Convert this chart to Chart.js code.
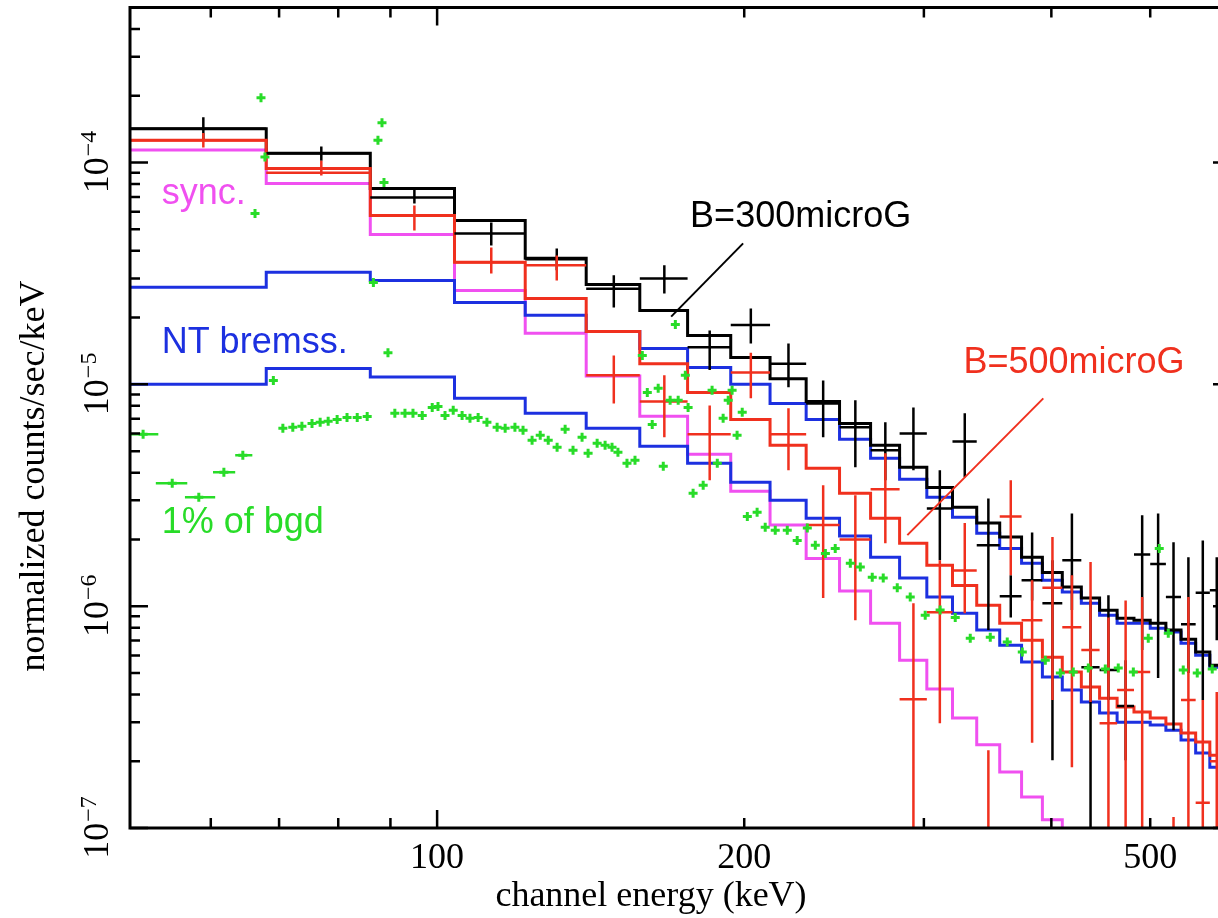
<!DOCTYPE html>
<html>
<head>
<meta charset="utf-8">
<title>Spectrum fit</title>
<script src="https://cdn.jsdelivr.net/npm/chart.js@4.4.1/dist/chart.umd.min.js"></script>
<style>
  html, body { margin: 0; padding: 0; background: #fff; }
  #wrap { width: 1218px; height: 918px; overflow: hidden; }
  canvas { display: block; }
</style>
</head>
<body>
<div id="wrap"><canvas id="spec" width="1240" height="918"></canvas></div>
<script>
// channel bin edges (keV)
const binEdges = [50, 68, 86, 104, 122, 140, 158, 176, 194, 212, 230, 248, 266, 284, 302, 320,
  338, 356, 374, 392, 410, 428, 446, 464, 482, 500, 518, 536, 554, 572, 590, 608];

// models, one value per bin
const modelB300 = [1.42e-4, 1.10e-4, 7.64e-5, 5.48e-5, 3.70e-5, 2.82e-5, 2.15e-5, 1.66e-5, 1.32e-5, 1.06e-5,
  8.37e-6, 6.67e-6, 5.31e-6, 4.23e-6, 3.43e-6, 2.79e-6, 2.37e-6, 2.05e-6, 1.66e-6, 1.42e-6,
  1.22e-6, 1.09e-6, 9.59e-7, 8.83e-7, 8.65e-7, 8.38e-7, 7.80e-7, 7.10e-7, 6.21e-7, 5.42e-7, 4.74e-7];
const modelB500 = [1.26e-4, 9.4e-5, 5.77e-5, 3.55e-5, 2.44e-5, 1.73e-5, 1.24e-5, 9.2e-6, 6.95e-6, 5.31e-6,
  4.19e-6, 3.23e-6, 2.49e-6, 1.92e-6, 1.53e-6, 1.24e-6, 1.01e-6, 8.38e-7, 7.03e-7, 5.89e-7,
  5.05e-7, 4.32e-7, 3.85e-7, 3.51e-7, 3.33e-7, 3.13e-7, 2.94e-7, 2.68e-7, 2.44e-7, 2.13e-7, 1.92e-7];
const bremssHigh = [2.74e-5, 3.20e-5, 2.94e-5, 2.34e-5, 2.05e-5, 1.73e-5, 1.45e-5, 1.19e-5, 1.0e-5, 8.2e-6,
  6.95e-6, 5.65e-6, 4.65e-6, 3.73e-6, 3.10e-6, 2.52e-6, 2.13e-6, 1.82e-6, 1.56e-6, 1.31e-6,
  1.16e-6, 1.03e-6, 9.1e-7, 8.38e-7, 8.38e-7, 7.96e-7, 7.64e-7, 6.81e-7, 6.01e-7, 5.31e-7, 4.65e-7];
const bremssLow = [1.0e-5, 1.18e-5, 1.08e-5, 8.65e-6, 7.40e-6, 6.34e-6, 5.26e-6, 4.41e-6, 3.62e-6, 3.0e-6,
  2.49e-6, 2.07e-6, 1.66e-6, 1.34e-6, 1.10e-6, 9.3e-7, 7.80e-7, 6.67e-7, 5.6e-7, 4.79e-7,
  4.19e-7, 3.70e-7, 3.30e-7, 3.0e-7, 3.0e-7, 2.91e-7, 2.76e-7, 2.49e-7, 2.18e-7, 1.88e-7, 1.64e-7];
const syncModel = [1.14e-4, 8.04e-5, 4.74e-5, 2.65e-5, 1.70e-5, 1.09e-5, 7.18e-6, 4.84e-6, 3.30e-6, 2.32e-6,
  1.64e-6, 1.17e-6, 8.38e-7, 5.71e-7, 4.23e-7, 3.13e-7, 2.37e-7, 1.79e-7, 1.38e-7, 1.09e-7, 8e-8];

// data points (per bin): value, upper and lower end of error bar
const data300 = [1.42e-4, 1.10e-4, 6.95e-5, 4.79e-5, 3.66e-5, 2.70e-5, 3.0e-5, 1.47e-5, 1.85e-5, 1.24e-5,
  8.2e-6, 6.40e-6, 5.05e-6, 6.01e-6, 2.76e-6, 5.53e-6, 1.88e-6, 1.11e-6, 1.31e-6, 1.03e-6,
  1.61e-6, 5.31e-7, 5.16e-7, 3.55e-7, 1.71e-6, 1.55e-6, 1.10e-6, 8.3e-7, 1.15e-6, 1.18e-6, null];
const data300Hi = [1.60e-4, 1.18e-4, 7.64e-5, 5.37e-5, 4.10e-5, 3.10e-5, 3.44e-5, 1.75e-5, 2.20e-5, 1.53e-5,
  1.04e-5, 8.47e-6, 6.74e-6, 7.87e-6, 4.10e-6, 7.40e-6, 3.06e-6, 1.38e-6, 2.15e-6, 1.61e-6,
  2.62e-6, 1.06e-6, 1.12e-6, 5.71e-7, 2.57e-6, 2.62e-6, 1.94e-6, 1.66e-6, 1.98e-6, 1.66e-6, null];
const data300Lo = [1.26e-4, 1.02e-4, 6.53e-5, 4.23e-5, 3.27e-5, 2.22e-5, 2.57e-5, 1.16e-5, 1.53e-5, 9.7e-6,
  5.78e-6, 4.23e-6, 3.70e-6, 4.10e-6, 1.61e-6, 3.81e-6, 7.80e-7, 8.9e-7, 1.06e-6, 2.02e-7,
  9.6e-7, 5e-8, 3.78e-7, 2.02e-7, 6.34e-7, 4.74e-7, 2.76e-7, 5.0e-7, 3.78e-7, 7.03e-7, null];

const data500 = [1.26e-4, 9.0e-5, 5.77e-5, 3.55e-5, 3.44e-5, 1.10e-5, 8.37e-6, 5.96e-6, 1.13e-5, 5.96e-6,
  2.32e-6, 2.0e-6, 3.37e-6, 3.81e-7, 9.4e-7, 1.45e-6, 6e-8, 2.54e-6, 8.65e-7, 1.21e-6,
  8.04e-7, 6.34e-7, 2.97e-7, 4.19e-7, 5.05e-7, null, 6e-8, 3.78e-7, 1.30e-7, 2.0e-7, null];
const data500Hi = [1.36e-4, 1.02e-4, 6.4e-5, 4.14e-5, 3.81e-5, 1.35e-5, 1.10e-5, 8.04e-6, 1.39e-5, 7.80e-6,
  3.51e-6, 3.16e-6, 4.89e-6, 1.03e-6, 1.61e-6, 2.37e-6, 2.24e-7, 3.70e-6, 1.31e-6, 2.05e-6,
  1.38e-6, 1.58e-6, 8.9e-7, 1.06e-6, 1.10e-6, null, 1.12e-7, 1.10e-6, 3.78e-7, 4.1e-7, null];
const data500Lo = [1.17e-4, 8.74e-5, 4.94e-5, 3.16e-5, 2.94e-5, 8.2e-6, 5.78e-6, 3.70e-6, 8.65e-6, 4.10e-6,
  1.09e-6, 8.65e-7, 1.92e-6, 5e-8, 2.97e-7, 9.3e-7, 5e-8, 1.38e-6, 2.42e-7, 3.78e-7,
  1.88e-7, 3.7e-7, 5e-8, 5e-8, 5e-8, null, 5e-8, 5e-8, 5e-8, 5e-8, null];

// 1% of background, finer binning
const bgdE = [67.2, 67.8, 66.3, 88.3, 87.5, 88.7, 86.6, 89.5, 69.1,
  70.6, 72.2, 73.7, 75.4, 76.8, 78.2, 79.8, 81.6, 83.5, 85.4, 90.9, 93.0, 94.7, 96.7, 98.9,
  100.2, 101.8, 103.7, 105.8, 107.7, 109.7, 111.9, 114.5, 116.6, 119.2, 121.4, 123.9, 126.2,
  128.5, 131.1, 133.5, 135.9, 138.7, 140.6, 143.5, 146.1, 148.4, 150.4, 153.5, 156.3,
  158.9, 160.7, 162.5, 164.7, 166.6, 169.2, 171.2, 172.3, 175.1, 176.2, 178.2, 182.3, 186.0,
  188.2, 190.7, 192.9, 194.6, 196.8, 199.1, 201.4, 205.9, 209.7, 214.5, 220.4, 225.4, 230.6,
  234.8, 240.2, 245.6, 254.1, 259.9, 267.0, 273.7, 282.5, 290.9, 300.9, 311.2, 322.0, 333.1,
  348.5, 362.1, 374.6, 394.6, 408.2, 420.3, 434.8, 451.8, 465.2, 481.3, 497.8, 510.3, 520.8,
  538.7, 556.0, 575.1];
const bgdV = [1.96e-4, 1.06e-4, 5.89e-5, 1.51e-4, 1.26e-4, 8.13e-5, 2.88e-5, 1.39e-5, 1.04e-5,
  6.34e-6, 6.40e-6, 6.47e-6, 6.67e-6, 6.74e-6, 6.81e-6, 6.95e-6, 7.09e-6, 7.09e-6, 7.17e-6, 7.40e-6, 7.40e-6, 7.40e-6, 7.24e-6, 7.87e-6,
  7.95e-6, 7.24e-6, 7.64e-6, 7.24e-6, 7.03e-6, 7.09e-6, 6.74e-6, 6.40e-6, 6.34e-6, 6.40e-6, 6.21e-6, 5.60e-6, 5.90e-6,
  5.60e-6, 5.20e-6, 6.27e-6, 5.05e-6, 5.78e-6, 4.89e-6, 5.43e-6, 5.31e-6, 5.20e-6, 4.94e-6, 4.41e-6, 4.55e-6,
  1.35e-5, 9.2e-6, 6.60e-6, 9.6e-6, 4.27e-6, 8.47e-6, 1.86e-5, 8.47e-6, 1.10e-5, 7.87e-6, 3.23e-6, 3.51e-6, 9.4e-6,
  4.41e-6, 7.03e-6, 8.47e-6, 9.4e-6, 5.90e-6, 7.48e-6, 2.54e-6, 2.65e-6, 2.27e-6, 2.20e-6, 2.20e-6, 1.98e-6, 2.25e-6,
  1.88e-6, 1.73e-6, 1.82e-6, 1.56e-6, 1.50e-6, 1.35e-6, 1.34e-6, 1.21e-6, 1.10e-6, 9.1e-7, 9.6e-7, 8.9e-7, 7.17e-7,
  7.24e-7, 6.9e-7, 6.21e-7, 5.71e-7, 5.0e-7, 5.05e-7, 5.26e-7, 5.21e-7, 5.26e-7, 5.05e-7, 7.17e-7, 1.82e-6, 7.55e-7,
  5.16e-7, 5.0e-7, 5.21e-7];
// the wide low-energy background bins
const bgdWideE = [51.5, 55.0, 58.4, 61.8, 64.5];
const bgdWideV = [5.96e-6, 3.58e-6, 3.10e-6, 4.02e-6, 4.79e-6];
const bgdWideLo = [50.0, 53.0, 56.6, 60.3, 63.4];
const bgdWideHi = [53.3, 56.9, 60.6, 63.4, 65.9];

// axes
const xTicks = [60, 70, 80, 90, 100, 200, 300, 400, 500];
const xMajor = [100];
const xLabelValues = [100, 200, 500];
const xLabels = ['100', '200', '500'];
const yLabelExps = [-4, -5, -6, -7];

const RED = '#f0301e', BLACK = '#000000', BLUE = '#1c30e0', MAGENTA = '#f050f0', GREEN = '#28dc28';

function steps(values) {
  const pts = values.map((v, i) => ({ x: binEdges[i], y: v }));
  pts.push({ x: binEdges[values.length], y: values[values.length - 1] });
  return pts;
}

function crosses(vals, hi, lo) {
  const pts = [];
  vals.forEach((v, i) => {
    if (v === null) return;
    const x0 = binEdges[i], x1 = binEdges[i + 1];
    const xc = (x0 + x1) / 2;
    pts.push({ x: x0, y: v }, { x: x1, y: v }, { x: xc, y: null },
      { x: xc, y: hi[i] }, { x: xc, y: lo[i] }, { x: xc, y: null });
  });
  return pts;
}

function bars(es, vs, lo, hi) {
  const pts = [];
  es.forEach((e, i) => {
    pts.push({ x: lo[i], y: vs[i] }, { x: hi[i], y: vs[i] }, { x: e, y: null });
  });
  return pts;
}

const stepStyle = { borderWidth: 3, pointRadius: 0, stepped: true, fill: false, borderJoinStyle: 'miter' };
const errStyle = { borderWidth: 2.5, pointRadius: 0, fill: false, spanGaps: false };

// annotations in data coordinates
const notes = [
  { text: 'sync.', x: 53.7, y: 6.47e-5, color: MAGENTA },
  { text: 'NT bremss.', x: 53.7, y: 1.39e-5, color: BLUE },
  { text: '1% of bgd', x: 53.7, y: 2.13e-6, color: GREEN },
  { text: 'B=300microG', x: 177.0, y: 5.1e-5, color: BLACK },
  { text: 'B=500microG', x: 328.0, y: 1.13e-5, color: RED }
];
const leaders = [
  { from: [199.5, 4.32e-5], to: [169.6, 2.02e-5], color: BLACK },
  { from: [392.8, 8.65e-6], to: [289.0, 2.09e-6], color: RED }
];

const framePlugin = {
  id: 'frame',
  afterDatasetsDraw(chart) {
    const { ctx, chartArea: a } = chart;
    const xs = chart.scales.x, ys = chart.scales.y;
    ctx.save();
    ctx.strokeStyle = '#000';
    ctx.lineWidth = 3;
    ctx.strokeRect(a.left, a.top, a.right - a.left, a.bottom - a.top);

    ctx.lineWidth = 2.5;
    ctx.beginPath();
    xTicks.forEach(v => {
      const px = xs.getPixelForValue(v);
      const len = xMajor.includes(v) ? 18 : 10;
      ctx.moveTo(px, a.bottom); ctx.lineTo(px, a.bottom - len);
      ctx.moveTo(px, a.top); ctx.lineTo(px, a.top + len);
    });
    for (let e = -7; e <= -4; e++) {
      for (let m = 1; m <= 9; m++) {
        const v = m * Math.pow(10, e);
        if (v > ys.max * 1.0001) continue;
        const py = ys.getPixelForValue(v);
        const len = m === 1 ? 18 : 10;
        ctx.moveTo(a.left, py); ctx.lineTo(a.left + len, py);
        ctx.moveTo(a.right, py); ctx.lineTo(a.right - len, py);
      }
    }
    ctx.stroke();

    ctx.fillStyle = '#000';
    ctx.font = '36px "Liberation Serif"';
    ctx.textAlign = 'center';
    ctx.textBaseline = 'alphabetic';
    xLabelValues.forEach((v, i) => ctx.fillText(xLabels[i], xs.getPixelForValue(v), 868));
    ctx.fillText('channel energy (keV)', 651, 906);

    yLabelExps.forEach(e => {
      const py = ys.getPixelForValue(Math.pow(10, e));
      const sup = '\u2212' + Math.abs(e);
      ctx.save();
      ctx.translate(108, py);
      ctx.rotate(-Math.PI / 2);
      ctx.textAlign = 'left';
      ctx.font = '36px "Liberation Serif"';
      const w1 = ctx.measureText('10').width;
      ctx.font = '24px "Liberation Serif"';
      const w2 = ctx.measureText(sup).width;
      const start = -(w1 + w2) / 2;
      ctx.font = '36px "Liberation Serif"';
      ctx.fillText('10', start, 0);
      ctx.font = '24px "Liberation Serif"';
      ctx.fillText(sup, start + w1 + 1, -12);
      ctx.restore();
    });

    ctx.save();
    ctx.translate(44, 476);
    ctx.rotate(-Math.PI / 2);
    ctx.font = '36px "Liberation Serif"';
    ctx.textAlign = 'center';
    ctx.fillText('normalized counts/sec/keV', 0, 0);
    ctx.restore();

    ctx.lineWidth = 2;
    leaders.forEach(l => {
      ctx.strokeStyle = l.color;
      ctx.beginPath();
      ctx.moveTo(xs.getPixelForValue(l.from[0]), ys.getPixelForValue(l.from[1]));
      ctx.lineTo(xs.getPixelForValue(l.to[0]), ys.getPixelForValue(l.to[1]));
      ctx.stroke();
    });
    ctx.font = '36px "Liberation Sans"';
    ctx.textAlign = 'left';
    notes.forEach(n => {
      ctx.fillStyle = n.color;
      ctx.fillText(n.text, xs.getPixelForValue(n.x), ys.getPixelForValue(n.y));
    });
    ctx.restore();
  }
};

new Chart(document.getElementById('spec'), {
  type: 'line',
  data: {
    datasets: [
      { label: 'bgd', data: bgdE.concat(bgdWideE).map((e, i) => ({ x: e, y: bgdV.concat(bgdWideV)[i] })),
        showLine: false, pointStyle: 'cross', pointRadius: 4.5, pointBorderWidth: 3,
        pointBorderColor: GREEN, pointBackgroundColor: GREEN },
      { label: 'bgd bins', data: bars(bgdWideE, bgdWideV, bgdWideLo, bgdWideHi), borderColor: GREEN, ...errStyle },
      { label: 'data 500', data: crosses(data500, data500Hi, data500Lo), borderColor: RED, ...errStyle },
      { label: 'data 300', data: crosses(data300, data300Hi, data300Lo), borderColor: BLACK, ...errStyle },
      { label: 'model 500', data: steps(modelB500), borderColor: RED, ...stepStyle },
      { label: 'model 300', data: steps(modelB300), borderColor: BLACK, ...stepStyle },
      { label: 'bremss 300', data: steps(bremssHigh), borderColor: BLUE, ...stepStyle },
      { label: 'bremss 500', data: steps(bremssLow), borderColor: BLUE, ...stepStyle },
      { label: 'sync', data: steps(syncModel), borderColor: MAGENTA, ...stepStyle }
    ]
  },
  options: {
    responsive: false,
    maintainAspectRatio: false,
    devicePixelRatio: 1,
    animation: false,
    events: [],
    layout: { padding: { left: 130, right: 9, top: 7, bottom: 90 } },
    plugins: { legend: { display: false }, tooltip: { enabled: false } },
    scales: {
      x: { type: 'logarithmic', min: 50, max: 600, display: false },
      y: { type: 'logarithmic', min: 1e-7, max: 5e-4, display: false }
    }
  },
  plugins: [framePlugin]
});
</script>
</body>
</html>
